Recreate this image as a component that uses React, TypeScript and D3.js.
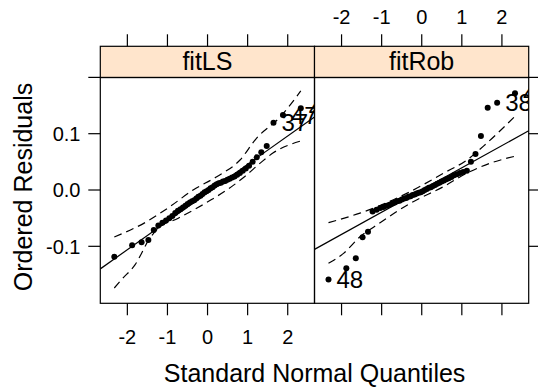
import React from "react";
import * as d3 from "d3";

// Standard normal quantiles for the 50 ordered residuals
const quantiles = [
  -2.326, -1.881, -1.645, -1.476, -1.341, -1.227, -1.126, -1.036, -0.954, -0.878,
  -0.806, -0.739, -0.674, -0.613, -0.553, -0.496, -0.44, -0.385, -0.332, -0.279,
  -0.228, -0.176, -0.126, -0.075, -0.025, 0.025, 0.075, 0.126, 0.176, 0.228,
  0.279, 0.332, 0.385, 0.44, 0.496, 0.553, 0.613, 0.674, 0.739, 0.806,
  0.878, 0.954, 1.036, 1.126, 1.227, 1.341, 1.476, 1.645, 1.881, 2.326,
];

const residualsLS = [
  -0.1185, -0.098, -0.093, -0.089, -0.071, -0.063, -0.058, -0.054, -0.05, -0.046,
  -0.041, -0.037, -0.034, -0.031, -0.028, -0.025, -0.022, -0.02, -0.018, -0.015,
  -0.012, -0.01, -0.007, -0.004, -0.002, 0.0, 0.003, 0.005, 0.008, 0.01,
  0.012, 0.013, 0.015, 0.016, 0.018, 0.02, 0.022, 0.024, 0.027, 0.03,
  0.034, 0.038, 0.043, 0.05, 0.058, 0.067, 0.078, 0.1195, 0.133, 0.145,
];

const residualsRob = [
  -0.159, -0.139, -0.121, -0.084, -0.074, -0.038, -0.035, -0.032, -0.03, -0.028,
  -0.026, -0.024, -0.022, -0.02, -0.019, -0.017, -0.015, -0.014, -0.012, -0.011,
  -0.009, -0.008, -0.006, -0.005, -0.004, -0.002, 0.0, 0.002, 0.004, 0.005,
  0.007, 0.009, 0.011, 0.013, 0.015, 0.017, 0.019, 0.021, 0.023, 0.026,
  0.028, 0.03, 0.032, 0.034, 0.05, 0.064, 0.096, 0.146, 0.155, 0.172,
];

const panelNames = ["fitLS", "fitRob"];
const xTicks = [-2, -1, 0, 1, 2];
const yTicks = [-0.1, 0.0, 0.1, 0.2];
const yTickLabels = ["-0.1", "0.0", "0.1", ""];

// reference line (intercept, slope) per panel
const lineIntercepts = [-0.005, 0.0];
const lineSlopes = [0.0505, 0.0394];

// envelopes
const envUpperLSq = [-2.326, -1.52, -0.94, -0.36, 0.23, 0.81, 1.22, 1.81, 2.326];
const envUpperLSr = [-0.0835, -0.0563, -0.0296, 0.0, 0.0237, 0.0533, 0.0918, 0.1297, 0.176];
const envLowerLSq = [-2.326, -2.13, -1.81, -1.44, -1.23, -0.73, -0.31, 0.1, 0.52, 0.93, 1.35, 1.64, 2.326];
const envLowerLSr = [-0.174, -0.158, -0.133, -0.0858, -0.068, -0.05, -0.034, -0.017, 0.002, 0.024, 0.05, 0.066, 0.087];
const envUpperRobq = [-2.326, -1.54, -1.12, -0.29, 0.54, 1.12, 1.62, 2.326];
const envUpperRobr = [-0.058, -0.041, -0.03, -0.003, 0.0297, 0.053, 0.083, 0.131];
const envLowerRobq = [-2.326, -1.95, -1.54, -1.12, -0.29, 0.54, 1.12, 1.7, 2.326];
const envLowerRobr = [-0.13, -0.1125, -0.083, -0.062, -0.0237, 0.0059, 0.0297, 0.0474, 0.06];

// labelled observations (index into ordered residuals, label)
const labelIdxLS = [47, 48, 49];
const labelTxtLS = ["37", "47", "44"];
const labelIdxRob = [0, 48, 49];
const labelTxtRob = ["48", "38", "44"];

const FONT = "'Liberation Sans', Arial, Helvetica, sans-serif";

export default function App() {
  const W = 538;
  const H = 387;
  const panelX0 = [100.3, 314.5];
  const panelW = 214.2;
  const stripTop = 46.3;
  const panelTop = 77.5;
  const panelBottom = 303.3;

  const y = d3.scaleLinear().domain([-0.2012, 0.1998]).range([panelBottom, panelTop]);
  const xs = panelX0.map((x0) =>
    d3.scaleLinear().domain([-2.675, 2.668]).range([x0, x0 + panelW])
  );

  const resids = [residualsLS, residualsRob];
  const envs = [
    [envUpperLSq, envUpperLSr, envLowerLSq, envLowerLSr],
    [envUpperRobq, envUpperRobr, envLowerRobq, envLowerRobr],
  ];
  const labIdx = [labelIdxLS, labelIdxRob];
  const labTxt = [labelTxtLS, labelTxtRob];

  const dash = "8,5";
  const lw = 1.2;

  return (
    <svg
      width={W}
      height={H}
      style={{ position: "absolute", left: 0, top: 0, background: "#fff" }}
      fontFamily={FONT}
    >
      <defs>
        {panelX0.map((x0, p) => (
          <clipPath id={`clip${p}`} key={p}>
            <rect x={x0} y={panelTop} width={panelW} height={panelBottom - panelTop} />
          </clipPath>
        ))}
      </defs>
      {panelX0.map((x0, p) => {
        const x = xs[p];
        const line = d3
          .line<[number, number]>()
          .x((d) => x(d[0]))
          .y((d) => y(d[1]))
          .curve(d3.curveMonotoneX);
        const [uq, ur, lq, lr] = envs[p];
        const up = uq.map((q, i) => [q, ur[i]] as [number, number]);
        const lo = lq.map((q, i) => [q, lr[i]] as [number, number]);
        const dom = x.domain();
        const refPts = dom.map((q) => [q, lineIntercepts[p] + lineSlopes[p] * q] as [number, number]);
        return (
          <g key={p}>
            {/* strip */}
            <rect x={x0} y={stripTop} width={panelW} height={panelTop - stripTop} fill="#ffe5cc" stroke="#000" strokeWidth={lw} />
            <text x={x0 + panelW / 2} y={(stripTop + panelTop) / 2 + 8.5} textAnchor="middle" fontSize={25}>
              {panelNames[p]}
            </text>
            {/* panel content */}
            <g clipPath={`url(#clip${p})`}>
              <path d={d3.line()(refPts.map((d) => [x(d[0]), y(d[1])])) || ""} stroke="#000" strokeWidth={lw} fill="none" />
              <path d={line(up) || ""} stroke="#000" strokeWidth={lw} fill="none" strokeDasharray={dash} />
              <path d={line(lo) || ""} stroke="#000" strokeWidth={lw} fill="none" strokeDasharray={dash} />
              {quantiles.map((q, i) => (
                <circle key={i} cx={x(q)} cy={y(resids[p][i])} r={3} fill="#000" />
              ))}
              {labIdx[p].map((idx, k) => (
                <text key={k} x={x(quantiles[idx]) + 8} y={y(resids[p][idx]) + 8.5} fontSize={24}>
                  {labTxt[p][k]}
                </text>
              ))}
            </g>
            <rect x={x0} y={panelTop} width={panelW} height={panelBottom - panelTop} fill="none" stroke="#000" strokeWidth={lw} />
            {/* x ticks top and bottom */}
            {xTicks.map((t) => (
              <g key={t}>
                <line x1={x(t)} x2={x(t)} y1={stripTop} y2={stripTop - 12} stroke="#000" strokeWidth={lw} />
                <line x1={x(t)} x2={x(t)} y1={panelBottom} y2={panelBottom + 12} stroke="#000" strokeWidth={lw} />
                {p === 0 ? (
                  <text x={x(t)} y={343.8} textAnchor="middle" fontSize={20}>
                    {t}
                  </text>
                ) : (
                  <text x={x(t)} y={23.7} textAnchor="middle" fontSize={20}>
                    {t}
                  </text>
                )}
              </g>
            ))}
          </g>
        );
      })}
      {/* y ticks left and right */}
      {yTicks.map((t, i) => (
        <g key={i}>
          <line x1={panelX0[0]} x2={panelX0[0] - 12} y1={y(t)} y2={y(t)} stroke="#000" strokeWidth={lw} />
          <line x1={panelX0[1] + panelW} x2={panelX0[1] + panelW + 12} y1={y(t)} y2={y(t)} stroke="#000" strokeWidth={lw} />
          <text x={80.5} y={y(t) + 7.2} textAnchor="end" fontSize={20}>
            {yTickLabels[i]}
          </text>
        </g>
      ))}
      <text x={314.6} y={381.5} textAnchor="middle" fontSize={25}>
        Standard Normal Quantiles
      </text>
      <text transform={`translate(32,187) rotate(-90)`} textAnchor="middle" fontSize={25}>
        Ordered Residuals
      </text>
    </svg>
  );
}
